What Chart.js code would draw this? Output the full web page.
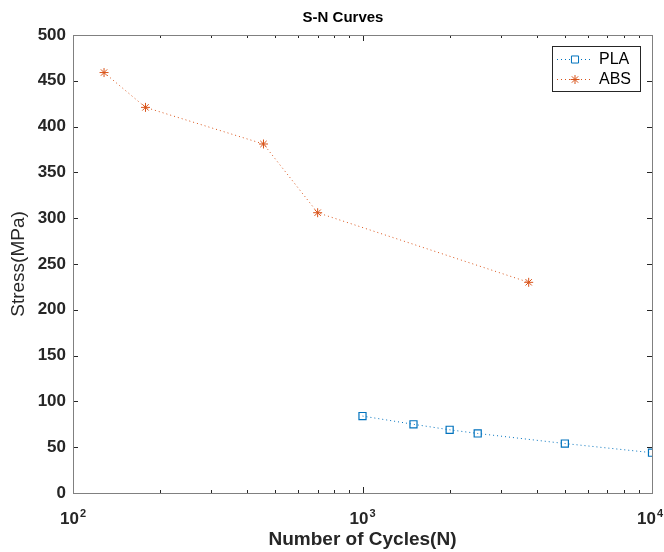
<!DOCTYPE html>
<html>
<head>
<meta charset="utf-8">
<script src="https://cdn.jsdelivr.net/npm/chart.js@4"></script>
<style>
  body { margin: 0; background: #fff; }
  #wrap { width: 664px; height: 552px; }
</style>
</head>
<body>
<div id="wrap"><canvas id="sn-chart"></canvas></div>
<script>
// S-N curves, values
const cyclesPLA = [1000, 1500, 2000, 2500, 5000, 10000];
const stressPLA = [84, 75, 69, 65, 54, 44];
const cyclesABS = [128, 178, 455, 700, 3750];
const stressABS = [459, 421, 381, 306, 230];

const xMajorTicks = [100, 1000, 10000];
const xTickExp = ['2', '3', '4'];
const yTicks = [0, 50, 100, 150, 200, 250, 300, 350, 400, 450, 500];

const blue = '#0072BD';
const orange = '#D95319';
const fontFam = '"Liberation Sans", Arial, sans-serif';

// box + inward ticks like matlab, 10^n labels, and the title
const axesBox = {
  id: 'axesBox',
  afterDatasetsDraw(chart) {
    const { ctx, chartArea: a, scales } = chart;
    const xs = scales.x, ys = scales.y;
    ctx.save();
    ctx.strokeStyle = '#262626';
    ctx.lineWidth = 1;
    ctx.beginPath();
    yTicks.forEach(v => {
      const y = Math.round(ys.getPixelForValue(v)) + 0.5;
      ctx.moveTo(a.left, y); ctx.lineTo(a.left + 5, y);
      ctx.moveTo(a.right, y); ctx.lineTo(a.right - 5, y);
    });
    for (let d = 100; d < 10000; d *= 10) {
      for (let m = 1; m <= 10; m++) {
        const v = d * m;
        const x = Math.round(xs.getPixelForValue(v)) + 0.5;
        const len = (m === 1 || m === 10) ? 6 : 3;
        ctx.moveTo(x, a.bottom); ctx.lineTo(x, a.bottom - len);
        ctx.moveTo(x, a.top); ctx.lineTo(x, a.top + len);
      }
    }
    ctx.stroke();
    ctx.strokeStyle = '#808080';
    ctx.strokeRect(Math.round(a.left) + 0.5, Math.round(a.top) + 0.5,
      Math.round(a.right - a.left), Math.round(a.bottom - a.top));

    // x tick labels 10^n
    ctx.fillStyle = '#262626';
    ctx.textBaseline = 'alphabetic';
    ctx.textAlign = 'left';
    xMajorTicks.forEach((v, i) => {
      ctx.font = 'bold 17px ' + fontFam;
      const wb = ctx.measureText('10').width;
      ctx.font = 'bold 11px ' + fontFam;
      const we = ctx.measureText(xTickExp[i]).width;
      const w = wb + 1 + we;
      let cx = xs.getPixelForValue(v);
      cx = Math.min(cx, chart.width - 1 - w / 2);
      const x0 = cx - w / 2;
      ctx.font = 'bold 17px ' + fontFam;
      ctx.fillText('10', x0, 524);
      ctx.font = 'bold 11px ' + fontFam;
      ctx.fillText(xTickExp[i], x0 + wb + 1, 517);
    });

    ctx.fillStyle = '#000';
    ctx.font = 'bold 15px ' + fontFam;
    ctx.textAlign = 'center';
    ctx.textBaseline = 'middle';
    ctx.fillText('S-N Curves', 343, 18);
    ctx.restore();
  }
};

const boxLegend = {
  id: 'boxLegend',
  afterDraw(chart) {
    const { ctx } = chart;
    const bx = 552, by = 46, bw = 88, bh = 45;
    ctx.save();
    ctx.fillStyle = '#fff';
    ctx.fillRect(bx, by, bw, bh);
    ctx.strokeStyle = '#262626';
    ctx.lineWidth = 1;
    ctx.strokeRect(bx + 0.5, by + 0.5, bw, bh);
    chart.data.datasets.forEach((ds, i) => {
      const y = by + 13 + i * 20;
      ctx.strokeStyle = ds.borderColor;
      ctx.setLineDash([1, 3]);
      ctx.beginPath();
      ctx.moveTo(bx + 5, y + 0.5); ctx.lineTo(bx + 41, y + 0.5);
      ctx.stroke();
      ctx.setLineDash([]);
      Chart.helpers.drawPoint(ctx, {
        pointStyle: ds.pointStyle, radius: ds.pointRadius, rotation: 0, borderWidth: 1
      }, bx + 23, y + 0.5);
      ctx.fillStyle = '#000';
      ctx.font = '16px ' + fontFam;
      ctx.textBaseline = 'middle';
      ctx.fillText(ds.label, bx + 47, y + 1);
    });
    ctx.restore();
  }
};

new Chart(document.getElementById('sn-chart'), {
  type: 'line',
  data: {
    datasets: [
      {
        label: 'PLA',
        data: cyclesPLA.map((c, i) => ({ x: c, y: stressPLA[i] })),
        borderColor: blue,
        borderWidth: 1,
        borderDash: [1, 3],
        pointStyle: 'rect',
        pointRadius: 5,
        pointBorderWidth: 1.2,
        pointBackgroundColor: 'rgba(0,0,0,0)',
        pointBorderColor: blue,
        fill: false
      },
      {
        label: 'ABS',
        data: cyclesABS.map((c, i) => ({ x: c, y: stressABS[i] })),
        borderColor: orange,
        borderWidth: 1,
        borderDash: [1, 3],
        pointStyle: 'star',
        pointRadius: 4.5,
        pointBorderWidth: 1,
        pointBackgroundColor: 'rgba(0,0,0,0)',
        pointBorderColor: orange,
        fill: false
      }
    ]
  },
  options: {
    responsive: true,
    maintainAspectRatio: false,
    animation: false,
    layout: { padding: { top: 35, right: 12, bottom: 1, left: 0 } },
    plugins: {
      legend: { display: false },
      tooltip: { enabled: false },
      title: { display: false }
    },
    scales: {
      x: {
        type: 'logarithmic',
        min: 100,
        max: 10000,
        afterBuildTicks: s => { s.ticks = xMajorTicks.map(v => ({ value: v, major: true })); },
        afterFit: s => { s.height = 58; s.paddingLeft = 0; s.paddingRight = 0; },
        grid: { display: false, drawTicks: false },
        border: { display: false },
        ticks: { display: false },
        title: {
          display: true,
          text: 'Number of Cycles(N)',
          color: '#262626',
          font: { family: fontFam, size: 19, weight: 'bold' },
          padding: { top: 0, bottom: 0 }
        }
      },
      y: {
        min: 0,
        max: 500,
        afterFit: s => { s.width = 73; },
        grid: { display: false, drawTicks: false },
        border: { display: false },
        ticks: {
          stepSize: 50,
          color: '#262626',
          padding: 7,
          font: { family: fontFam, size: 17, weight: 'bold' }
        },
        title: {
          display: true,
          text: 'Stress(MPa)',
          color: '#262626',
          font: { family: fontFam, size: 19 },
          padding: { top: 7, bottom: 0 }
        }
      }
    }
  },
  plugins: [axesBox, boxLegend]
});
</script>
</body>
</html>
